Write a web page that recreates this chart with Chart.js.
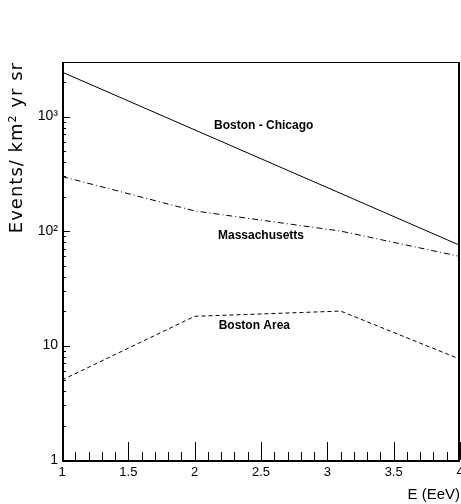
<!DOCTYPE html>
<html>
<head>
<meta charset="utf-8">
<script src="https://cdn.jsdelivr.net/npm/chart.js@4/dist/chart.umd.min.js"></script>
<style>
    html, body { margin: 0; padding: 0; background: #fff; }
    #wrap { width: 461px; height: 504px; }
</style>
</head>
<body>
<div id="wrap"><canvas id="c" width="461" height="504"></canvas></div>
<script>
// values (E in EeV, events / km2 yr sr)
const chicagoE = [1, 4];
const chicagoRate = [2450, 75];
const massE = [1, 2, 3.1, 4];
const massRate = [300, 150, 100, 60];
const bostonE = [1, 2, 3.1, 4];
const bostonRate = [5, 18, 20, 7.6];

const xMin = 1, xMax = 4;
const yMin = 1, yMax = 3000;
const yLabels = { 1: '1', 10: '10', 100: '10²', 1000: '10³' };
const yTitle = 'Events/ km² yr sr';

// text labels inside the frame, placed in data coordinates
const notes = [
    { text: 'Boston - Chicago', x: 2.52, y: 830 },
    { text: 'Massachusetts', x: 2.5, y: 92 },
    { text: 'Boston Area', x: 2.45, y: 15 }
];

function pts(xs, ys) {
    return xs.map((x, i) => ({ x: x, y: ys[i] }));
}

const FONT = "'Liberation Sans', Arial, sans-serif";

// ROOT-like frame: box plus inward ticks
const framePlugin = {
    id: 'frame',
    afterDraw(chart) {
        const ctx = chart.ctx;
        const a = chart.chartArea;
        const xs = chart.scales.x, ys = chart.scales.y;
        ctx.save();
        ctx.strokeStyle = '#000';
        ctx.lineWidth = 1;
        ctx.strokeRect(a.left + 0.5, a.top + 0.5, a.right - a.left - 1, a.bottom - a.top);
        ctx.beginPath();
        xs.ticks.forEach(t => {
            const px = Math.round(xs.getPixelForValue(t.value)) + 0.5;
            const major = Math.round(t.value * 10) % 5 === 0;
            ctx.moveTo(px, a.bottom);
            ctx.lineTo(px, a.bottom - (major ? 18 : 8));
        });
        ys.ticks.forEach(t => {
            const py = Math.round(ys.getPixelForValue(t.value)) + 0.5;
            const major = yLabels[t.value] !== undefined;
            ctx.moveTo(a.left, py);
            ctx.lineTo(a.left + (major ? 8 : 4), py);
        });
        ctx.stroke();
        // axis lines slightly heavier
        ctx.lineWidth = 2;
        ctx.beginPath();
        ctx.moveTo(a.left + 1, a.top);
        ctx.lineTo(a.left + 1, a.bottom + 1);
        ctx.lineTo(a.right, a.bottom + 1);
        ctx.moveTo(a.right - 1, a.top);
        ctx.lineTo(a.right - 1, a.bottom);
        ctx.stroke();

        ctx.fillStyle = '#000';
        ctx.font = 'bold 12px ' + FONT;
        ctx.textAlign = 'center';
        ctx.textBaseline = 'middle';
        notes.forEach(n => {
            ctx.fillText(n.text, xs.getPixelForValue(n.x), ys.getPixelForValue(n.y));
        });

        // y title, rotated, starting at the top of the frame
        ctx.translate(17, a.top);
        ctx.rotate(-Math.PI / 2);
        ctx.font = "18px 'DejaVu Sans', sans-serif";
        ctx.letterSpacing = '1px';
        ctx.textAlign = 'right';
        ctx.fillText(yTitle, 0, 0);
        ctx.restore();
    }
};

new Chart(document.getElementById('c'), {
    type: 'line',
    data: {
        datasets: [
            { label: 'Boston - Chicago', data: pts(chicagoE, chicagoRate), borderDash: [] },
            { label: 'Massachusetts', data: pts(massE, massRate), borderDash: [6, 3, 1, 3] },
            { label: 'Boston Area', data: pts(bostonE, bostonRate), borderDash: [4, 3] }
        ].map(d => Object.assign(d, {
            borderColor: '#000',
            borderWidth: 1,
            pointRadius: 0,
            tension: 0,
            fill: false
        }))
    },
    options: {
        responsive: false,
        animation: false,
        events: [],
        layout: { padding: { top: 62, right: 1, left: 0, bottom: 0 } },
        plugins: {
            legend: { display: false },
            tooltip: { enabled: false }
        },
        scales: {
            x: {
                type: 'linear',
                min: xMin,
                max: xMax,
                afterBuildTicks: s => {
                    const t = [];
                    for (let i = 10; i <= 40; i++) t.push({ value: i / 10 });
                    s.ticks = t;
                },
                afterFit: s => {
                    s.height = 44;
                    s.paddingLeft = 0;
                    s.paddingRight = 0;
                },
                grid: { display: false, drawTicks: false },
                border: { display: false },
                ticks: {
                    autoSkip: false,
                    maxRotation: 0,
                    padding: 5,
                    color: '#000',
                    font: { family: FONT, size: 13 },
                    callback: v => (Math.round(v * 10) % 5 === 0 ? String(Math.round(v * 10) / 10) : '')
                },
                title: {
                    display: true,
                    text: 'E (EeV)',
                    align: 'end',
                    color: '#000',
                    padding: { top: 2, bottom: 0 },
                    font: { family: FONT, size: 15 }
                }
            },
            y: {
                type: 'logarithmic',
                min: yMin,
                max: yMax,
                afterBuildTicks: s => {
                    const t = [];
                    for (let d = 1; d <= 1000; d *= 10) {
                        for (let k = 1; k <= 9; k++) {
                            if (d * k <= yMax) t.push({ value: d * k });
                        }
                    }
                    s.ticks = t;
                },
                afterFit: s => {
                    s.width = 62;
                    s.paddingTop = 0;
                    s.paddingBottom = 0;
                },
                grid: { display: false, drawTicks: false },
                border: { display: false },
                ticks: {
                    autoSkip: false,
                    padding: 4,
                    color: '#000',
                    font: { family: FONT, size: 14 },
                    callback: v => (yLabels[v] !== undefined ? yLabels[v] : '')
                },
                title: { display: false }
            }
        }
    },
    plugins: [framePlugin]
});
</script>
</body>
</html>
